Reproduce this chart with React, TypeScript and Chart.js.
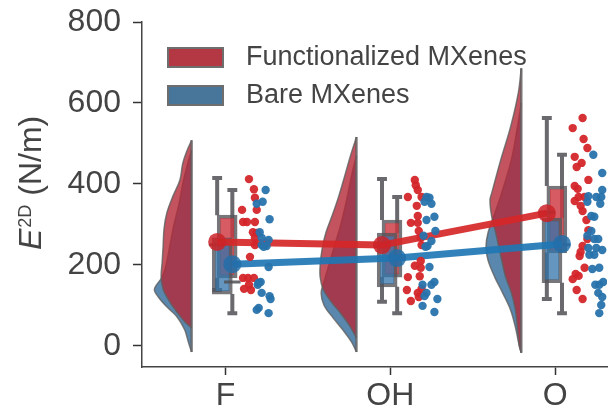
import React, { useEffect, useRef } from 'react';
import { Chart, registerables } from 'chart.js';
Chart.register(...registerables);

// ---------- data ----------
const categories = ['F', 'OH', 'O'];
const seriesNames = ['Functionalized MXenes', 'Bare MXenes'];
const yTickValues = [0, 200, 400, 600, 800];

// mean values (connected by lines)
const meanFunc = [257, 249, 328];
const meanBare = [202, 217, 252];

// box stats: [whiskerLow, q1, median, q3, whiskerHigh]
const boxFunc = [
  [138, 168, 250, 323, 415],
  [109, 170, 245, 311, 412],
  [116, 230, 330, 395, 563],
];
const boxBare = [
  [81, 128, 158, 267, 385],
  [81, 146, 215, 279, 368],
  [81, 156, 250, 316, 472],
];

// half violins: sampled values and half-widths (in category units)
const violinFuncValues = [
  [508, 480, 450, 410, 370, 330, 290, 245, 205, 170, 140, 120, 100, 80, 60, 44],
  [516, 470, 420, 370, 320, 280, 240, 200, 170, 140, 110, 80, 50, 20],
  [686, 625, 541, 459, 378, 360, 319, 279, 245, 212, 170, 131, 89, 47, 0, -17],
];
const violinFuncWidths = [
  [0, 0.03, 0.054, 0.071, 0.113, 0.149, 0.167, 0.173, 0.179, 0.185, 0.173, 0.149, 0.119, 0.083, 0.042, 0],
  [0, 0.036, 0.071, 0.107, 0.149, 0.185, 0.208, 0.22, 0.22, 0.202, 0.155, 0.095, 0.042, 0],
  [0, 0.018, 0.065, 0.125, 0.179, 0.19, 0.179, 0.155, 0.137, 0.119, 0.095, 0.06, 0.036, 0.024, 0.012, 0],
];
const violinBareValues = [
  [484, 450, 400, 350, 300, 250, 200, 170, 150, 138, 121, 96, 72, 40, 7, -15],
  [470, 420, 360, 300, 250, 200, 160, 130, 100, 70, 40, 10, -15],
  [600, 540, 460, 378, 320, 279, 245, 212, 170, 131, 89, 47, 0, -17],
];
const violinBareWidths = [
  [0, 0.024, 0.054, 0.077, 0.107, 0.131, 0.155, 0.179, 0.214, 0.226, 0.202, 0.149, 0.089, 0.042, 0.018, 0],
  [0, 0.03, 0.06, 0.095, 0.131, 0.167, 0.196, 0.214, 0.196, 0.143, 0.083, 0.03, 0],
  [0, 0.024, 0.06, 0.119, 0.167, 0.202, 0.214, 0.202, 0.161, 0.113, 0.065, 0.036, 0.012, 0],
];

// strip points: values and horizontal offsets from the category (category units)
const stripFuncValues = [
  [412, 387, 366, 336, 336, 306, 306, 306, 281, 279, 267, 249, 220, 168, 168, 168, 151, 141, 138],
  [410, 397, 385, 368, 368, 346, 321, 304, 304, 284, 267, 249, 210, 198, 193, 170, 172, 141, 138, 131, 121, 111],
  [563, 538, 511, 489, 467, 452, 442, 410, 395, 388, 368, 368, 358, 346, 333, 311, 286, 264, 247, 232, 222, 193, 178, 173, 165, 138, 116],
];
const stripFuncOffsets = [
  [0.143, 0.173, 0.179, 0.101, 0.19, 0.107, 0.131, 0.179, 0.167, 0.19, 0.179, 0.179, 0.149, 0.107, 0.137, 0.173, 0.143, 0.113, 0.155],
  [0.149, 0.155, 0.167, 0.107, 0.19, 0.161, 0.167, 0.125, 0.167, 0.173, 0.185, 0.19, 0.185, 0.149, 0.185, 0.107, 0.179, 0.19, 0.101, 0.167, 0.173, 0.125],
  [0.167, 0.107, 0.173, 0.196, 0.119, 0.161, 0.131, 0.202, 0.119, 0.137, 0.143, 0.179, 0.119, 0.155, 0.167, 0.19, 0.202, 0.196, 0.167, 0.155, 0.149, 0.179, 0.125, 0.143, 0.107, 0.131, 0.167],
];
const stripBareValues = [
  [385, 356, 351, 313, 281, 267, 262, 249, 247, 245, 195, 158, 156, 151, 131, 123, 116, 94, 89, 81],
  [368, 366, 356, 351, 319, 311, 284, 272, 259, 247, 245, 195, 158, 151, 151, 131, 123, 116, 99, 84],
  [472, 427, 385, 370, 368, 368, 356, 351, 319, 321, 284, 272, 264, 264, 242, 242, 237, 225, 225, 190, 193, 151, 151, 158, 131, 121, 101, 81],
];
const stripBareOffsets = [
  [0.244, 0.226, 0.19, 0.268, 0.208, 0.22, 0.262, 0.22, 0.25, 0.232, 0.262, 0.214, 0.202, 0.196, 0.22, 0.268, 0.274, 0.202, 0.19, 0.262],
  [0.22, 0.238, 0.208, 0.25, 0.268, 0.22, 0.274, 0.202, 0.25, 0.226, 0.214, 0.238, 0.268, 0.196, 0.25, 0.22, 0.208, 0.286, 0.196, 0.268],
  [0.232, 0.286, 0.286, 0.202, 0.25, 0.28, 0.196, 0.274, 0.238, 0.22, 0.22, 0.196, 0.238, 0.262, 0.202, 0.25, 0.286, 0.238, 0.208, 0.226, 0.268, 0.244, 0.268, 0.292, 0.262, 0.286, 0.28, 0.268],
];

// ---------- style ----------
const FONT = "'Liberation Sans', Arial, Helvetica, sans-serif";
const TEXT = '#444444';
const SHIFT_FUNC = -0.05;
const SHIFT_BARE = 0.042;
const VIOLIN_EDGE = -0.205;
const CAP = 0.03;
const MED_HALF = 0.05;

const RED_VIOLIN = 'rgba(180,40,55,0.8)';
const BLUE_VIOLIN = 'rgba(35,95,145,0.75)';
const RED_BOX = 'rgba(205,55,65,0.82)';
const BLUE_BOX = 'rgba(50,115,170,0.75)';
const RED = 'rgba(214,39,40,0.92)';
const BLUE = 'rgba(31,119,180,0.92)';
const RED_DOT = 'rgba(212,38,42,0.95)';
const BLUE_DOT = 'rgba(40,115,172,0.95)';
const EDGE = 'rgba(95,95,95,0.8)';
const BOX_EDGE = 'rgba(85,85,90,0.8)';
const WHISK = 'rgba(80,80,85,0.85)';

function violinData(i: number, vals: number[], widths: number[]) {
  return vals.map((v, k) => ({ x: i + VIOLIN_EDGE - widths[k], y: v }));
}

function whiskerData(stats: number[][], shift: number) {
  const out: any[] = [];
  stats.forEach((s, i) => {
    const cx = i + shift;
    out.push({ x: cx, y: s[0] }, { x: cx, y: s[1] }, { x: cx, y: null });
    out.push({ x: cx, y: s[3] }, { x: cx, y: s[4] }, { x: cx, y: null });
    out.push({ x: cx - CAP, y: s[0] }, { x: cx + CAP, y: s[0] }, { x: cx, y: null });
    out.push({ x: cx - CAP, y: s[4] }, { x: cx + CAP, y: s[4] }, { x: cx, y: null });
  });
  return out;
}

function medianData(stats: number[][], shift: number) {
  const out: any[] = [];
  stats.forEach((s, i) => {
    const cx = i + shift;
    out.push({ x: cx - MED_HALF, y: s[2] }, { x: cx + MED_HALF, y: s[2] }, { x: cx, y: null });
  });
  return out;
}

const overlayPlugin = {
  id: 'overlay',
  afterDraw(chart: any) {
    const ctx = chart.ctx;
    ctx.save();
    // legend
    const items = [
      { label: seriesNames[0], color: 'rgb(180,55,68)', y: 48 },
      { label: seriesNames[1], color: 'rgb(72,118,155)', y: 86 },
    ];
    items.forEach((it) => {
      ctx.fillStyle = it.color;
      ctx.fillRect(168, it.y, 55, 19);
      ctx.strokeStyle = 'rgba(110,110,110,1)';
      ctx.lineWidth = 2;
      ctx.strokeRect(168, it.y, 55, 19);
      ctx.fillStyle = TEXT;
      ctx.font = `27px ${FONT}`;
      ctx.textBaseline = 'middle';
      ctx.textAlign = 'left';
      ctx.fillText(it.label, 246, it.y + 10);
    });
    // y axis title: E^2D (N/m)
    ctx.translate(41, 250);
    ctx.rotate(-Math.PI / 2);
    ctx.fillStyle = TEXT;
    ctx.textBaseline = 'alphabetic';
    ctx.textAlign = 'left';
    ctx.font = `italic 32px ${FONT}`;
    ctx.fillText('E', 0, 0);
    const w1 = ctx.measureText('E').width + 1;
    ctx.font = `18px ${FONT}`;
    ctx.fillText('2D', w1, -10);
    const w2 = ctx.measureText('2D').width;
    ctx.font = `32px ${FONT}`;
    ctx.fillText(' (N/m)', w1 + w2, 0);
    ctx.restore();
  },
};

export default function App() {
  const ref = useRef<HTMLCanvasElement>(null);
  useEffect(() => {
    if (!ref.current) return;
    const datasets: any[] = [];
    // violins
    categories.forEach((_, i) => {
      datasets.push({
        type: 'line', order: 20, data: violinData(i, violinBareValues[i], violinBareWidths[i]),
        fill: 'shape', backgroundColor: BLUE_VIOLIN, borderColor: EDGE, borderWidth: 1.5,
        pointRadius: 0, tension: 0.35,
      });
    });
    categories.forEach((_, i) => {
      datasets.push({
        type: 'line', order: 19, data: violinData(i, violinFuncValues[i], violinFuncWidths[i]),
        fill: 'shape', backgroundColor: RED_VIOLIN, borderColor: EDGE, borderWidth: 1.5,
        pointRadius: 0, tension: 0.35,
      });
    });
    // flat violin edges
    categories.forEach((_, i) => {
      const all = violinFuncValues[i].concat(violinBareValues[i]);
      datasets.push({
        type: 'line', order: 18,
        data: [{ x: i + VIOLIN_EDGE, y: Math.max(...all) }, { x: i + VIOLIN_EDGE, y: Math.min(...all) }],
        borderColor: EDGE, borderWidth: 2.5, pointRadius: 0, fill: false,
      });
    });
    // whiskers
    datasets.push({ type: 'line', order: 17, data: whiskerData(boxFunc, SHIFT_FUNC), borderColor: WHISK, borderWidth: 4, pointRadius: 0, fill: false, spanGaps: false });
    datasets.push({ type: 'line', order: 17, data: whiskerData(boxBare, SHIFT_BARE), borderColor: WHISK, borderWidth: 4, pointRadius: 0, fill: false, spanGaps: false });
    // boxes
    datasets.push({
      type: 'bar', order: 16, data: boxFunc.map((s, i) => ({ x: i + SHIFT_FUNC, y: [s[1], s[3]] })),
      backgroundColor: RED_BOX, borderColor: BOX_EDGE, borderWidth: 3.5, borderSkipped: false, barThickness: 20,
    });
    datasets.push({
      type: 'bar', order: 15, data: boxBare.map((s, i) => ({ x: i + SHIFT_BARE, y: [s[1], s[3]] })),
      backgroundColor: BLUE_BOX, borderColor: BOX_EDGE, borderWidth: 3.5, borderSkipped: false, barThickness: 20,
    });
    datasets.push({ type: 'line', order: 14, data: medianData(boxFunc, SHIFT_FUNC), borderColor: WHISK, borderWidth: 3, pointRadius: 0, fill: false });
    datasets.push({ type: 'line', order: 14, data: medianData(boxBare, SHIFT_BARE), borderColor: WHISK, borderWidth: 3, pointRadius: 0, fill: false });
    // mean lines
    datasets.push({
      type: 'line', order: 13, data: meanFunc.map((m, i) => ({ x: i + SHIFT_FUNC, y: m })),
      borderColor: RED, backgroundColor: RED, borderWidth: 7, pointRadius: 9, pointBorderWidth: 0,
      pointBackgroundColor: 'rgba(205,35,40,0.85)', fill: false, tension: 0,
    });
    datasets.push({
      type: 'line', order: 12, data: meanBare.map((m, i) => ({ x: i + SHIFT_BARE, y: m })),
      borderColor: BLUE, backgroundColor: BLUE, borderWidth: 7, pointRadius: 9, pointBorderWidth: 0,
      pointBackgroundColor: 'rgba(35,110,170,0.85)', fill: false, tension: 0,
    });
    // strips
    categories.forEach((_, i) => {
      datasets.push({
        type: 'scatter', order: 2,
        data: stripFuncValues[i].map((v, k) => ({ x: i + stripFuncOffsets[i][k], y: v })),
        backgroundColor: RED_DOT, borderWidth: 0, pointRadius: 4.2,
      });
      datasets.push({
        type: 'scatter', order: 1,
        data: stripBareValues[i].map((v, k) => ({ x: i + stripBareOffsets[i][k], y: v })),
        backgroundColor: BLUE_DOT, borderWidth: 0, pointRadius: 4.2,
      });
    });

    const chart = new Chart(ref.current, {
      type: 'line',
      data: { datasets },
      options: {
        responsive: false,
        animation: false,
        layout: { padding: { top: 22, left: 0, right: 0, bottom: 0 } },
        plugins: { legend: { display: false }, tooltip: { enabled: false }, title: { display: false } },
        scales: {
          x: {
            type: 'linear', min: -0.506, max: 2.315, offset: false,
            afterBuildTicks: (s: any) => { s.ticks = categories.map((_, i) => ({ value: i })); },
            afterFit: (s: any) => { s.height = 43; s.paddingLeft = 0; s.paddingRight = 0; },
            ticks: {
              callback: (v: any) => categories[Math.round(Number(v))] ?? '',
              font: { family: FONT, size: 32 }, color: TEXT, padding: 2, autoSkip: false, maxRotation: 0,
            },
            grid: { display: true, drawOnChartArea: false, drawTicks: true, tickLength: 8, tickColor: '#333', tickWidth: 1.5, offset: false },
            border: { display: true, color: '#444', width: 1.5 },
          },
          y: {
            type: 'linear', min: -52, max: 800,
            afterBuildTicks: (s: any) => { s.ticks = yTickValues.map((v) => ({ value: v })); },
            afterFit: (s: any) => { s.width = 142; s.paddingTop = 0; s.paddingBottom = 0; },
            ticks: { font: { family: FONT, size: 32 }, color: TEXT, padding: 12 },
            grid: { display: true, drawOnChartArea: false, drawTicks: true, tickLength: 9, tickColor: '#333', tickWidth: 1.5 },
            border: { display: true, color: '#444', width: 1.5 },
          },
        },
      } as any,
      plugins: [overlayPlugin],
    });
    return () => chart.destroy();
  }, []);
  return (
    <div style={{ position: 'fixed', left: 0, top: 0, width: 616, height: 410, background: '#fff' }}>
      <canvas ref={ref} width={616} height={410} style={{ display: 'block' }} />
    </div>
  );
}
